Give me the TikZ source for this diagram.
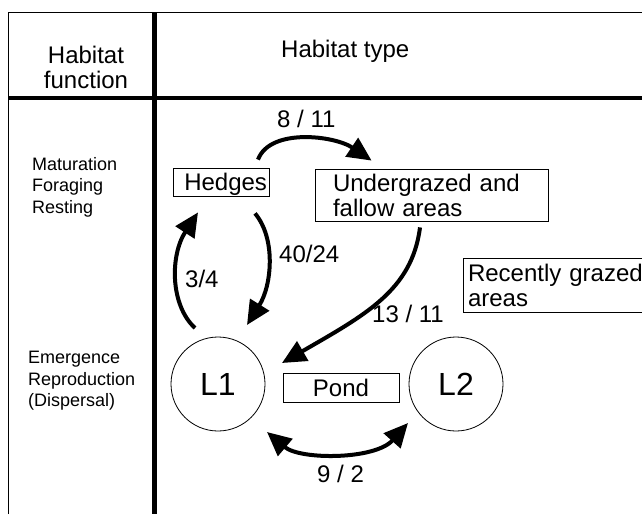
\documentclass[tikz,border=0pt]{standalone}
\usepackage{fontspec}
\setmainfont{Liberation Sans}
\usetikzlibrary{arrows.meta,calc}
\begin{document}
\begin{tikzpicture}[x=1pt,y=-1pt,
  big/.style={font=\fontsize{24}{25}\selectfont},
  small/.style={font=\fontsize{18}{21.5}\selectfont},
  boxnode/.style={draw, line width=0.8pt, rectangle, big, inner ysep=0pt},
  lnode/.style={draw, circle, line width=0.8pt, minimum size=94pt, inner sep=0pt, font=\fontsize{32}{32}\selectfont},
  flow/.style={line width=4pt, -{Triangle[length=24pt,width=22pt]}},
  flowtwo/.style={line width=4pt, {Triangle[length=24pt,width=22pt]}-{Triangle[length=24pt,width=22pt]}},
  lbl/.style={big, inner sep=0pt, anchor=base west}
]
\clip (0,0) rectangle (642,514);
\fill[white] (0,0) rectangle (642,514);
% table lines
\draw[line width=1.5pt] (8.5,514) -- (8.5,12.5) -- (642,12.5);
\draw[line width=4pt] (8,98) -- (642,98);
\draw[line width=4.5pt] (154.5,12) -- (154.5,514);
% headers
\node[big, align=center, anchor=north, inner sep=0pt] (hf) at (86,45.5) {Habitat\\function};
\node[lbl] (ht) at (281,57) {Habitat type};
% left column
\node[small, align=left, anchor=north west, inner sep=0pt] (mfr) at (32,157) {Maturation\\Foraging\\Resting};
\node[small, align=left, anchor=north west, inner sep=0pt] (erd) at (28,351) {Emergence\\Reproduction\\(Dispersal)};
% habitat boxes
\node[boxnode, minimum width=96pt, minimum height=28pt, text width=92pt, align=right, inner xsep=2pt, text depth=0pt] (hedges) at (221,182) {Hedges};
\node[boxnode, minimum width=233pt, minimum height=52pt, text width=197pt, inner xsep=18pt, align=left] (under) at (431.5,195) {Undergrazed and\\fallow areas};
\node[boxnode, minimum height=54pt, text width=207pt, inner xsep=5pt, align=left] (recent) at (571.5,285) {Recently grazed\\areas};
\node[boxnode, minimum width=116pt, minimum height=29pt] (pond) at (341,387.5) {Pond};
\node[lnode] (L1) at (218,384) {L1};
\node[lnode] (L2) at (456,384) {L2};
% arrows
\draw[flow] ($(hedges.north)+(37,-8)$) .. controls +(12,-32) and +(-37,-25) .. ($(under.north west)+(57,-8)$);
\draw[flow] ($(L1.center)+(-23,-56)$) .. controls +(-25,-23) and +(-28,43) .. ($(hedges.south)+(-23,16)$);
\draw[flow] ($(hedges.south)+(34,17)$) .. controls +(21,25) and +(25,-40) .. ($(L1.center)+(29,-59)$);
\draw[flow] ($(under.south)+(-11.5,6)$) .. controls +(-8,63) and +(83,-48) .. ($(L1.center)+(64,-21)$);
\draw[flowtwo] ($(L1.center)+(49,48)$) .. controls +(33,28) and +(-33,37) .. ($(L2.center)+(-48,39)$);
% labels
\node[lbl] (t811) at (277,127) {8 / 11};
\node[lbl] (t34) at (185,287) {3/4};
\node[lbl] (t4024) at (279,262) {40/24};
\node[lbl] (t1311) at (372,322) {13 / 11};
\node[lbl] (t92) at (317,482) {9 / 2};
\end{tikzpicture}
\end{document}
